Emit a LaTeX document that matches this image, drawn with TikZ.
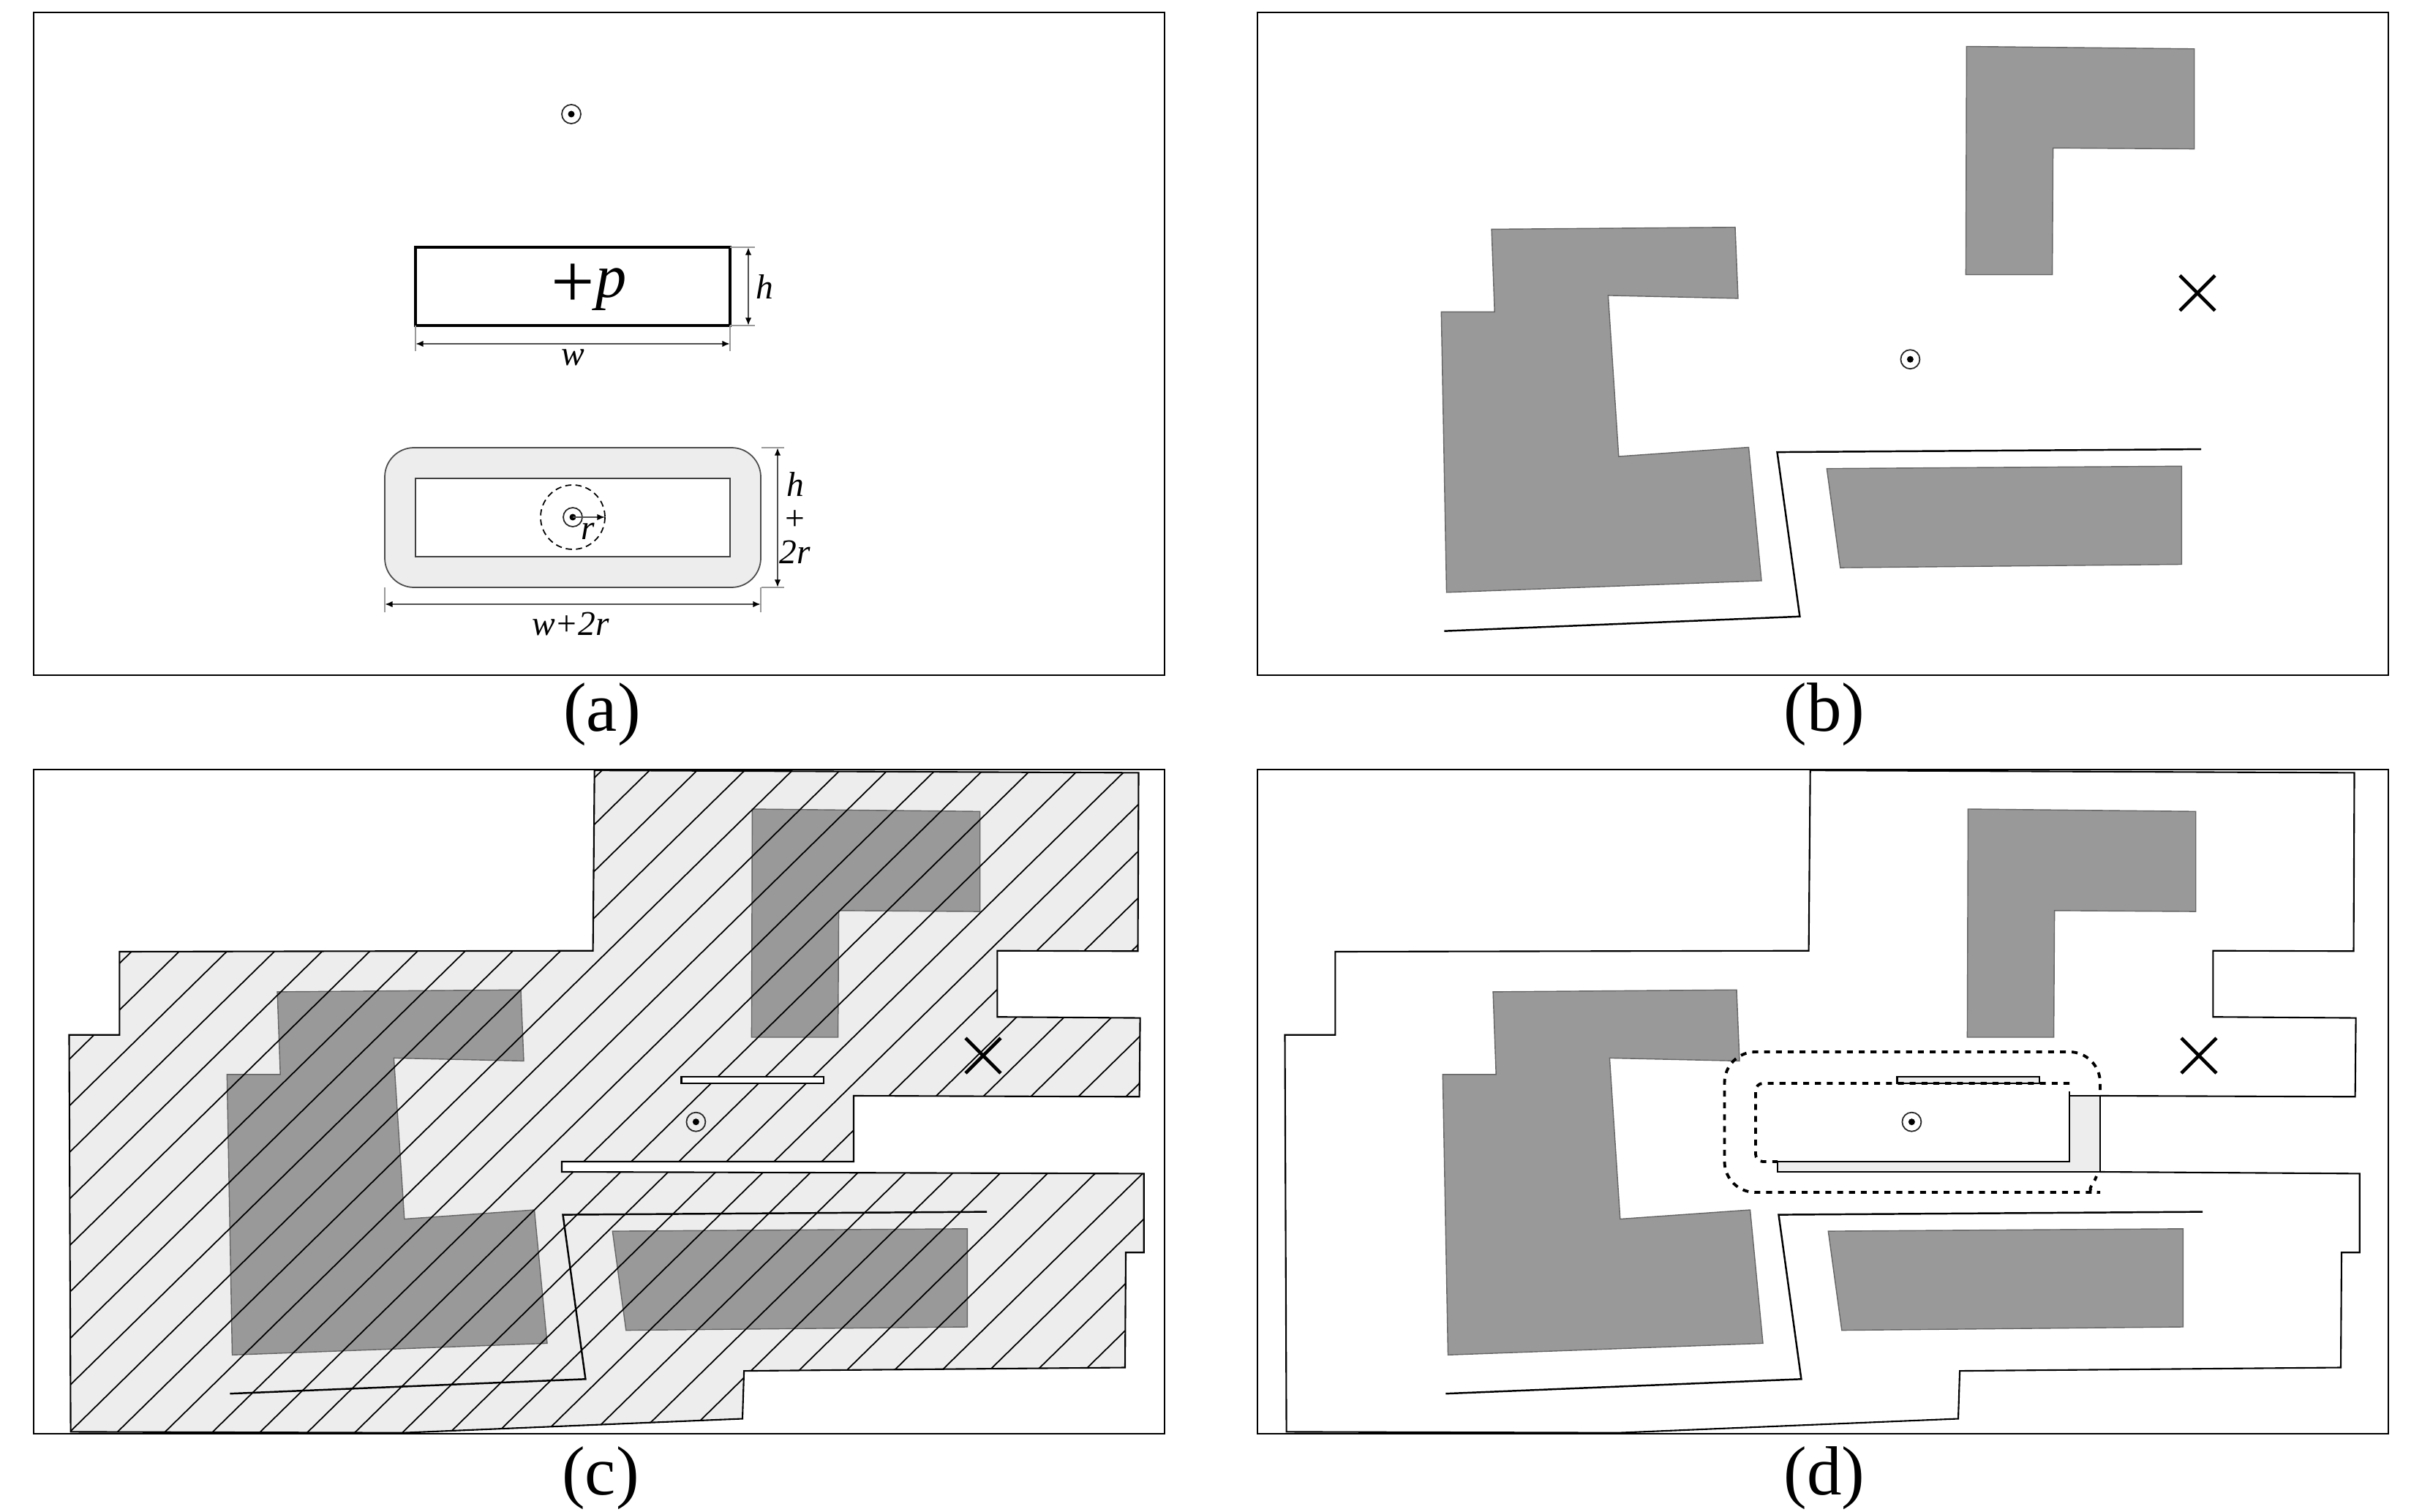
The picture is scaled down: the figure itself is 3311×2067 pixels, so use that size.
\documentclass[tikz,border=0pt]{standalone}
\usepackage{fontspec}
\setmainfont{Liberation Serif}
\usetikzlibrary{arrows.meta, calc}
\definecolor{blockgray}{RGB}{153, 153, 153}
\definecolor{zonegray}{RGB}{237, 237, 237}
\definecolor{dimgray}{RGB}{80, 80, 80}
\newcommand{\zonechain}{(1500.6,447.3) -- (1501.6,339.6) -- (1306.4,338.2) -- (1306.4,247.7) -- (1498.5,248.3) -- (1499.5,4.4) -- (755.7,1.1) -- (753.6,247.7) -- (106.4,249) -- (106.4,362.7) -- (37.5,362.7) -- (39.6,905.4) -- (493.7,906.7) -- (958,887.5) -- (960.1,822.1) -- (1481,817.5) -- (1482,660.2) -- (1506.7,660.2) -- (1506.7,552.4)}

\begin{document}
\begin{tikzpicture}[
  x=0.01cm, y=-0.01cm,
  frame/.style={draw=black, line width=0.7pt},
  block/.style={fill=blockgray, draw=black!60, line width=0.4pt},
  wall/.style={draw=black, line width=0.7pt, line join=miter},
  thinwall/.style={draw=black, line width=0.6pt},
  dotline/.style={draw=black, line width=1.1pt, dash pattern=on 2.3pt off 2.3pt},
  hatch/.style={draw=black, line width=0.5pt},
  dimline/.style={draw=dimgray, line width=0.55pt, {Latex[length=3pt,width=2.4pt,black]}-{Latex[length=3pt,width=2.4pt,black]}},
  witness/.style={draw=black!40, line width=0.45pt},
  caption/.style={font=\fontsize{27}{27}\selectfont, inner sep=0pt},
  dimtext/.style={font=\fontsize{13.5}{14}\selectfont\itshape, inner sep=0pt, align=center},
  viewpoint/.pic={
    \draw[black!85, line width=0.5pt] (0,0) circle[radius=13];
    \fill[black] (0,0) circle[radius=4.5];
  },
  crossmark/.pic={
    \draw[black, line width=1.3pt] (-24,-24) -- (24,24) (-24,24) -- (24,-24);
  },
  buildings/.pic={
    \path[block] (322.1,303.9) -- (655,301.2) -- (659,398.4) -- (481.4,394.4) -- (495.8,614.5) -- (673.5,602) -- (691,784.4) -- (260.5,800.3) -- (253.3,416.9) -- (326.2,416.9) -- cycle;
    \path[block] (971.4,54) -- (1282.7,57.3) -- (1282.7,194.1) -- (1089.6,192.8) -- (1088.6,366) -- (970.4,366) -- cycle;
    \path[block] (780.3,631.1) -- (1265.3,627.8) -- (1265.3,762) -- (798.8,766.6) -- cycle;
  },
  lane/.pic={
    \draw[wall] (257.4,853.2) -- (743.4,833.3) -- (712.5,608.6) -- (1292,604.6);
  }
]
\useasboundingbox (0,0) rectangle (3311,2067);

\draw[frame] (46,17) rectangle (1592,923);
\pic at (781,156) {viewpoint};
\coordinate (rectnw) at (568,338);
\coordinate (rectse) at (998,445);
\draw[black, line width=1.1pt] (rectnw) rectangle (rectse);
\node[inner sep=0pt] (plus) at (783,391) {\fontsize{30}{30}\selectfont +};
\node[inner sep=0pt] (plabel) at (836,396) {\fontsize{24}{24}\selectfont\itshape p};
\draw[witness] (998,338) -- (1032,338) (998,445) -- (1032,445);
\draw[dimline] (1023,338) -- (1023,445);
\node[dimtext] (hlabel) at (1045,392) {h};
\draw[witness] (568,445) -- (568,480) (998,445) -- (998,480);
\draw[dimline] (568,470) -- (998,470);
\node[dimtext] (wlabel) at (783,489) {w};

\draw[fill=zonegray, draw=black!70, line width=0.5pt, rounded corners=0.4cm] (526,612) rectangle (1040,803);
\draw[fill=white, draw=black!75, line width=0.7pt] (568,654) rectangle (998,761);
\draw[black, line width=0.5pt, dash pattern=on 2.4pt off 1.6pt] (783,707) circle[radius=44];
\pic at (783,707) {viewpoint};
\draw[draw=dimgray, line width=0.4pt, -{Latex[length=3pt,width=2.4pt,black]}] (783,707) -- (827,707);
\node[dimtext] (rlabel) at (804,726) {r};
\draw[witness] (1041,612) -- (1072,612) (1041,803) -- (1072,803);
\draw[dimline] (1063,612) -- (1063,803);
\node[dimtext] (hrlabel) at (1087,708) {h\\[-1pt]{\upshape +}\\[-1pt]2r};
\draw[witness] (526,803) -- (526,837) (1040,803) -- (1040,837);
\draw[dimline] (526,826) -- (1040,826);
\node[dimtext] (wrlabel) at (780,853) {w+2r};
\node[caption] (capa) at (823,977) {(a)};

\draw[frame] (1719,17) rectangle (3265,923);
\begin{scope}[shift={(1717,9.5)}]
  \pic {buildings};
  \pic {lane};
  \pic at (1286.9,391.1) {crossmark};
  \pic at (894.4,481.7) {viewpoint};
\end{scope}
\node[caption] (capb) at (2494,977) {(b)};

\draw[frame] (46,1052) rectangle (1592,1960);
\begin{scope}[shift={(57,1052)}]
  \fill[zonegray] (1110,446) -- \zonechain -- (711,550) -- (711,536) -- (1110,536) -- cycle;
  \pic {buildings};
  \begin{scope}
    \clip (1110,446) -- \zonechain -- (711,550) -- (711,536) -- (1110,536) -- cycle;
    \foreach \k in {-19,...,20}
      \draw[hatch] ({1243+65.07*\k},-20) -- ({1243+65.07*\k-960},921);
  \end{scope}
  \draw[thinwall] (1110,446) -- \zonechain -- (711,550) -- (711,536) -- (1110,536) -- cycle;
  \pic {lane};
  \draw[thinwall, fill=white] (874.5,420) rectangle (1069,429);
  \pic at (1286.9,391.1) {crossmark};
  \pic at (894.4,481.7) {viewpoint};
\end{scope}
\node[caption] (capc) at (821,2021) {(c)};

\draw[frame] (1719,1052) rectangle (3265,1960);
\begin{scope}[shift={(1719,1052)}]
  \pic {buildings};
  \pic {lane};
  \fill[zonegray] (1110,446) -- (1152,446) -- (1152,550) -- (711,550) -- (711,536) -- (1110,536) -- cycle;
  \draw[thinwall] (1152,446) -- \zonechain -- (1152,550);
  \draw[thinwall] (1152,446) -- (1152,550) -- (711,550) -- (711,536) -- (1110,536) -- (1110,440);
  \draw[thinwall] (1110,446) -- (1152,446);
  \draw[thinwall, fill=zonegray] (874.5,420) rectangle (1069,429);
  \draw[dotline, rounded corners=0.42cm] (1152,438) -- (1152,386) -- (638.5,386) -- (638.5,578) -- (1110,578) [sharp corners] .. controls (1128,578) and (1142,570) .. (1147,556);
  \draw[dotline, rounded corners=0.1cm] (1110,429) -- (681,429) -- (681,536) -- (711,536);
  \pic at (1286.9,391.1) {crossmark};
  \pic at (894.4,481.7) {viewpoint};
\end{scope}
\node[caption] (capd) at (2494,2021) {(d)};
\end{tikzpicture}
\end{document}
